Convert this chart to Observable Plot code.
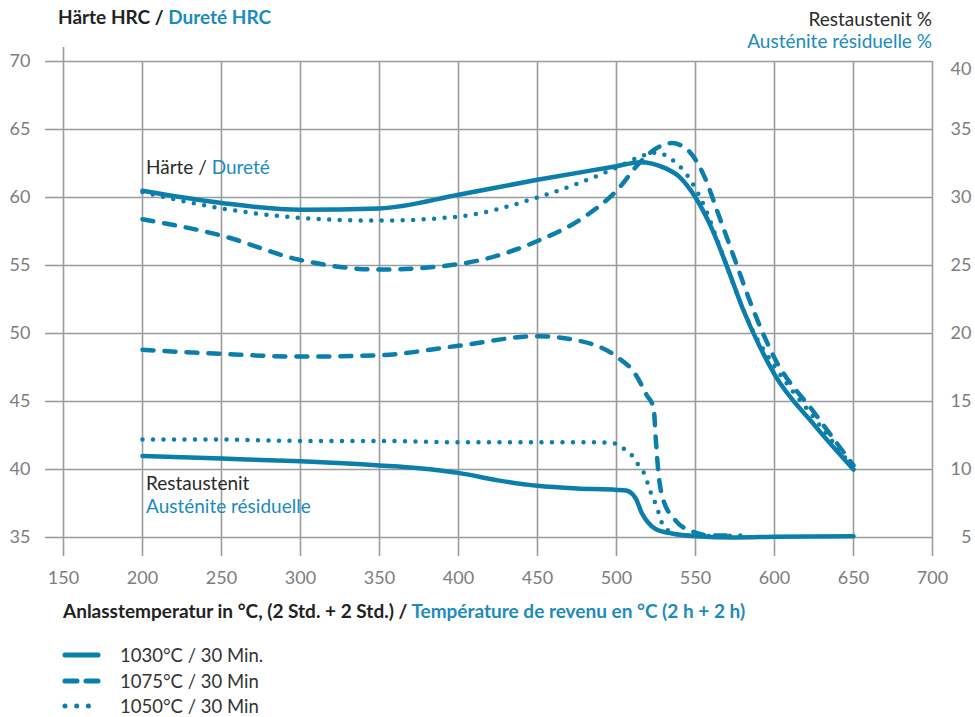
<!DOCTYPE html>
<html>
<head>
<meta charset="utf-8">
<script src="https://cdn.jsdelivr.net/npm/d3@7"></script>
<script src="https://cdn.jsdelivr.net/npm/@observablehq/plot@0.6"></script>
<style>
  html, body { margin: 0; padding: 0; background: #fff; }
  body { font-family: "Lato", "Open Sans", sans-serif; color: #222; }
  #wrap { position: relative; width: 975px; height: 717px; overflow: hidden; }
  #header { position: relative; height: 50px; }
  .abs { position: absolute; white-space: nowrap; }
  .blue { color: #1a8bbd; }
  #footer { position: relative; height: 122px; }
  #chart svg { display: block; }
</style>
</head>
<body>
<div id="wrap">
  <div id="header">
    <div class="abs" style="left:58px; top:5px; font-size:19px; font-weight:700; line-height:24px;">Härte HRC / <span class="blue">Dureté HRC</span></div>
    <div class="abs" style="right:43px; top:7px; font-size:19px; line-height:24px; text-align:right; color:#2a2a2a;">Restaustenit %</div>
    <div class="abs blue" style="right:43px; top:29px; font-size:19px; line-height:24px; text-align:right;">Austénite résiduelle %</div>
  </div>
  <div id="chart"></div>
  <div id="footer"></div>
</div>
<script>
// ---------- data ----------
const xTicks = [150, 200, 250, 300, 350, 400, 450, 500, 550, 600, 650, 700];
const yTicks = [35, 40, 45, 50, 55, 60, 65, 70];
const rightTicks = [5, 10, 15, 20, 25, 30, 35, 40];   // Restaustenit %
const rightOffset = 30;                                 // % + 30 = HRC scale

// Härte (HRC)
const h1030T = [200, 250, 300, 350, 400, 450, 500, 515, 530, 540, 550, 560, 570, 580, 590, 600, 625, 650];
const h1030V = [60.5, 59.6, 59.1, 59.2, 60.2, 61.3, 62.3, 62.6, 62.2, 61.5, 60.0, 57.8, 54.9, 51.8, 49.2, 47.0, 43.3, 40.0];
const h1075T = [200, 250, 300, 350, 400, 450, 480, 500, 515, 525, 535, 545, 555, 565, 575, 585, 600, 625, 650];
const h1075V = [58.4, 57.2, 55.4, 54.7, 55.1, 56.8, 58.6, 60.5, 62.6, 63.6, 64.0, 63.5, 61.7, 58.6, 55.4, 52.2, 48.2, 44.2, 40.3];
const h1050T = [200, 250, 300, 350, 400, 450, 500, 515, 525, 535, 545, 555, 565, 575, 585, 600, 625, 650];
const h1050V = [60.4, 59.2, 58.5, 58.3, 58.6, 60.0, 62.2, 63.0, 63.3, 62.8, 61.6, 59.5, 56.5, 53.3, 50.5, 47.6, 43.8, 40.1];

// Restaustenit (%)
const r1030T = [200, 250, 300, 350, 375, 400, 425, 450, 475, 500, 506, 512, 516, 520, 525, 535, 550, 575, 600, 650];
const r1030V = [11.0, 10.8, 10.6, 10.3, 10.1, 9.75, 9.2, 8.8, 8.6, 8.5, 8.45, 7.9, 6.8, 6.1, 5.6, 5.3, 5.1, 5.0, 5.05, 5.1];
const r1075T = [200, 250, 300, 350, 400, 450, 475, 500, 512, 519, 523.5, 525, 526.5, 529, 537, 549, 560, 575];
const r1075V = [18.8, 18.5, 18.3, 18.4, 19.1, 19.8, 19.5, 18.3, 17.0, 15.5, 14.5, 12.0, 9.8, 8.0, 6.3, 5.4, 5.15, 5.15];
const r1050T = [200, 250, 300, 350, 400, 450, 490, 500, 505, 510, 514, 517.5, 520, 522, 525, 527, 529, 533, 540, 555, 582];
const r1050V = [12.2, 12.2, 12.1, 12.1, 12.0, 12.0, 12.0, 11.9, 11.5, 11.0, 10.3, 9.7, 8.9, 8.2, 7.4, 6.7, 6.0, 5.5, 5.2, 5.1, 5.15];

const seriesNames = ["1030°C / 30 Min.", "1075°C / 30 Min", "1050°C / 30 Min"];

// ---------- styling ----------
const BLUE = "#0b7eab";
const GRID = "#9c9c9c";
const TICKTXT = "#7d7d7d";
const FONT = "Lato, 'Open Sans', sans-serif";
const SW = 4.5;
const DASH = "11,11";
const DOT = "0,10.5";

const zip = (T, V, off = 0) => T.map((t, i) => ({x: t, y: V[i] + off}));
const lineOpts = (dash) => ({x: "x", y: "y", stroke: BLUE, strokeWidth: SW, curve: "monotone-x",
  strokeLinecap: "round", strokeLinejoin: "round", strokeDasharray: dash});

const chart = Plot.plot({
  width: 975,
  height: 545,
  marginTop: 11,
  marginBottom: 58,
  marginLeft: 63,
  marginRight: 43,
  style: {fontFamily: FONT, fontSize: "18px", background: "#fff", overflow: "visible"},
  x: {domain: [150, 700], ticks: xTicks},
  y: {domain: [35, 70], ticks: yTicks},
  marks: [
    Plot.gridX(xTicks, {stroke: GRID, strokeOpacity: 1, strokeWidth: 1.6}),
    Plot.gridY(yTicks, {stroke: GRID, strokeOpacity: 1, strokeWidth: 1.6}),
    Plot.axisX(xTicks, {anchor: "bottom", tickSize: 19, tickPadding: 15, stroke: GRID, strokeWidth: 1.6,
      fill: TICKTXT, fontSize: 18, label: null}),
    Plot.axisX([150], {anchor: "top", tickSize: 15, stroke: GRID, strokeWidth: 1.6, tickFormat: () => "", label: null}),
    Plot.axisY(yTicks, {anchor: "left", tickSize: 18, tickPadding: 15, stroke: GRID, strokeWidth: 1.6,
      fill: TICKTXT, fontSize: 18, label: null}),
    Plot.text(rightTicks.filter(d => d !== 40), {y: d => d + rightOffset, text: d => String(d), frameAnchor: "right",
      dx: 39, textAnchor: "end", fill: TICKTXT, fontSize: 18}),
    Plot.text([40], {y: d => d + rightOffset, text: d => String(d), frameAnchor: "right",
      dx: 39, dy: 8, textAnchor: "end", fill: TICKTXT, fontSize: 18}),
    // Restaustenit curves
    Plot.line(zip(r1030T, r1030V, rightOffset), lineOpts(null)),
    Plot.line(zip(r1075T, r1075V, rightOffset), lineOpts(DASH)),
    Plot.line(zip(r1050T, r1050V, rightOffset), lineOpts(DOT)),
    // Härte curves
    Plot.line(zip(h1075T, h1075V), lineOpts(DASH)),
    Plot.line(zip(h1050T, h1050V), lineOpts(DOT)),
    Plot.line(zip(h1030T, h1030V), lineOpts(null))
  ]
});
document.getElementById("chart").appendChild(chart);

// annotations inside the chart (positioned from scales)
const sx = chart.scale("x"), sy = chart.scale("y");
const wrap = document.getElementById("wrap");
function addLabel(html, xVal, yVal, dyPx) {
  const d = document.createElement("div");
  d.className = "abs";
  d.style.left = (sx.apply(xVal) + 4) + "px";
  d.style.top = (50 + sy.apply(yVal) + dyPx - 12) + "px";
  d.style.fontSize = "19px";
  d.style.lineHeight = "24px";
  d.style.color = "#2a2a2a";
  d.innerHTML = html;
  wrap.appendChild(d);
}
addLabel('Härte / <span class="blue">Dureté</span>', 200, 65, 38);
addLabel('Restaustenit', 200, 40, 14);
addLabel('<span class="blue">Austénite résiduelle</span>', 200, 40, 37);

// footer: x-axis title and legend
const footer = document.getElementById("footer");
const xt = document.createElement("div");
xt.className = "abs";
xt.style.cssText += "left:63px; top:4px; font-size:19px; font-weight:700; line-height:24px;";
xt.innerHTML = 'Anlasstemperatur in °C, (2 Std. + 2 Std.) / <span class="blue">Température de revenu en °C (2 h + 2 h)</span>';
footer.appendChild(xt);

const dashes = [null, "12,9", "0,11.7"];
seriesNames.forEach((name, i) => {
  const row = document.createElement("div");
  row.className = "abs";
  row.style.cssText += `left:63px; top:${48 + i * 25.5}px; height:24px; display:flex; align-items:center;`;
  const svg = d3.create("svg").attr("width", 40).attr("height", 10).style("overflow", "visible");
  svg.append("line").attr("x1", 2).attr("x2", 35).attr("y1", 5).attr("y2", 5)
    .attr("stroke", BLUE).attr("stroke-width", 5).attr("stroke-linecap", "round")
    .attr("stroke-dasharray", dashes[i]);
  row.appendChild(svg.node());
  const t = document.createElement("span");
  t.textContent = name;
  t.style.cssText = "font-size:18.5px; color:#333; margin-left:17px; line-height:24px;";
  row.appendChild(t);
  footer.appendChild(row);
});
</script>
</body>
</html>
